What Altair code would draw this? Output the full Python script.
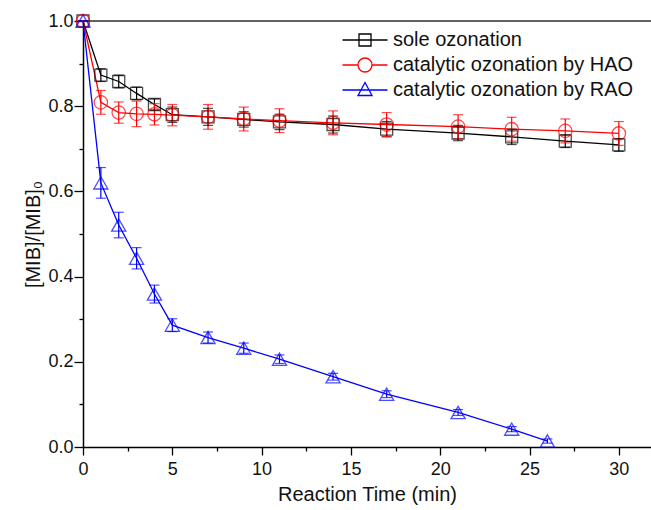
import altair as alt
import pandas as pd

series_names = ["sole ozonation", "catalytic ozonation by HAO", "catalytic ozonation by RAO"]
series_keys = ["S", "H", "R"]
series_colors = ["#000000", "#ff0000", "#0000ff"]

t_sole = [0, 1, 2, 3, 4, 5, 7, 9, 11, 14, 17, 21, 24, 27, 30]
v_sole = [1.0, 0.873, 0.858, 0.830, 0.804, 0.780, 0.775, 0.769, 0.763, 0.757, 0.746, 0.737, 0.728, 0.718, 0.709]
e_sole = [0.0, 0.015, 0.015, 0.015, 0.013, 0.018, 0.02, 0.018, 0.018, 0.02, 0.018, 0.018, 0.018, 0.015, 0.015]

t_hao = [0, 1, 2, 3, 4, 5, 7, 9, 11, 14, 17, 21, 24, 27, 30]
v_hao = [1.0, 0.809, 0.785, 0.782, 0.781, 0.779, 0.775, 0.770, 0.766, 0.761, 0.757, 0.752, 0.746, 0.742, 0.736]
e_hao = [0.0, 0.028, 0.025, 0.03, 0.025, 0.025, 0.029, 0.028, 0.028, 0.028, 0.028, 0.028, 0.028, 0.028, 0.028]

t_rao = [0, 1, 2, 3, 4, 5, 7, 9, 11, 14, 17, 21, 24, 26]
v_rao = [1.0, 0.620, 0.521, 0.443, 0.359, 0.286, 0.257, 0.232, 0.206, 0.165, 0.124, 0.081, 0.042, 0.014]
e_rao = [0.0, 0.036, 0.03, 0.025, 0.021, 0.015, 0.013, 0.012, 0.01, 0.008, 0.008, 0.007, 0.006, 0.005]

rows = []
for name, key, ts, vs, es in [(series_names[0], series_keys[0], t_sole, v_sole, e_sole),
                              (series_names[1], series_keys[1], t_hao, v_hao, e_hao),
                              (series_names[2], series_keys[2], t_rao, v_rao, e_rao)]:
    for t, v, e in zip(ts, vs, es):
        rows.append({"series": name, "sid": key, "t": t, "v": v, "lo": v - e, "hi": v + e})
df = pd.DataFrame(rows)

FONT = "Liberation Sans"

x_enc = alt.X("t:Q", scale=alt.Scale(domain=[0, 31.8], nice=False),
              title="Reaction Time (min)",
              axis=alt.Axis(values=[0, 2.5, 5, 7.5, 10, 12.5, 15, 17.5, 20, 22.5, 25, 27.5, 30],
                            labelExpr="datum.value % 5 == 0 ? format(datum.value, 'd') : ''",
                            tickSize={"condition": {"test": "datum.value % 5 == 0", "value": 8}, "value": 4},
                            grid=False, labelFontSize=18, titleFontSize=20, labelPadding=5,
                            titlePadding=6, labelFont=FONT, titleFont=FONT, titleFontWeight="normal",
                            domainColor="#000", domainWidth=1.5, tickColor="#000", tickWidth=1.3,
                            labelColor="#111", titleColor="#111", labelFlush=False))
y_enc = alt.Y("v:Q", scale=alt.Scale(domain=[0, 1.0], nice=False),
              title="[MIB]/[MIB]₀",
              axis=alt.Axis(values=[0, 0.1, 0.2, 0.3, 0.4, 0.5, 0.6, 0.7, 0.8, 0.9, 1.0],
                            labelExpr="round(datum.value * 10) % 2 == 0 ? format(datum.value, '.1f') : ''",
                            tickSize={"condition": {"test": "round(datum.value * 10) % 2 == 0", "value": 9}, "value": 4},
                            grid=False, labelFontSize=18, titleFontSize=20, labelPadding=1,
                            titlePadding=4, labelFont=FONT, titleFont=FONT, titleFontWeight="normal",
                            domainColor="#000", domainWidth=1.5, tickColor="#000", tickWidth=1.3,
                            labelColor="#111", titleColor="#111", labelFlush=False))

stroke_enc = alt.Stroke("sid:N", scale=alt.Scale(domain=series_keys, range=series_colors), legend=None)
fill_enc = alt.Fill("sid:N", scale=alt.Scale(domain=series_keys, range=series_colors), legend=None)

base = alt.Chart(df)

lines = base.mark_line(strokeWidth=1.3).encode(x=x_enc, y=y_enc, stroke=stroke_enc, detail="sid:N")

bars = base.mark_rule(strokeWidth=1.2).encode(x="t:Q", y="lo:Q", y2="hi:Q", stroke=stroke_enc)
caps_lo = base.mark_tick(orient="horizontal", size=10, thickness=1.2).encode(x="t:Q", y="lo:Q", fill=fill_enc)
caps_hi = base.mark_tick(orient="horizontal", size=10, thickness=1.2).encode(x="t:Q", y="hi:Q", fill=fill_enc)

pts_sole = base.transform_filter(alt.datum.sid == "S").mark_point(
    shape="square", size=144, filled=False, strokeWidth=1.3).encode(x="t:Q", y="v:Q", stroke=stroke_enc)
pts_hao = base.transform_filter(alt.datum.sid == "H").mark_point(
    shape="circle", size=180, filled=False, strokeWidth=1.3).encode(x="t:Q", y="v:Q", stroke=stroke_enc)
pts_rao = base.transform_filter(alt.datum.sid == "R").mark_point(
    shape="triangle-up", size=200, filled=False, strokeWidth=1.3).encode(x="t:Q", y="v:Q", stroke=stroke_enc)

legend_paths = [
    "M-2.25,0L2.25,0M-0.6,-0.6L0.6,-0.6L0.6,0.6L-0.6,0.6Z",
    "M-2.25,0L-0.7,0M0.7,0L2.25,0M0.7,0A0.7,0.7 0 1,1 -0.7,0A0.7,0.7 0 1,1 0.7,0Z",
    "M-2.25,0L2.25,0M0,-0.75L0.7,0.55L-0.7,0.55Z",
]

leg = alt.Legend(title=None, orient="none", legendX=271, legendY=8,
                 labelFontSize=20, labelFont=FONT, labelColor="#111", labelLimit=0,
                 labelOffset=17, rowPadding=4, padding=0,
                 symbolSize=400, symbolStrokeWidth=1.3, symbolOpacity=1,
                 symbolFillColor="transparent")

legend_layer = base.mark_point(filled=False, size=400, strokeWidth=1.3, opacity=0).encode(
    x="t:Q", y="v:Q",
    color=alt.Color("series:N", scale=alt.Scale(domain=series_names, range=series_colors), legend=leg),
    shape=alt.Shape("series:N", scale=alt.Scale(domain=series_names, range=legend_paths), legend=leg),
)

top_rule = alt.Chart(pd.DataFrame({"y": [1.0]})).mark_rule(color="#333", strokeWidth=1.5).encode(y=alt.Y("y:Q"))

chart = alt.layer(top_rule, lines, bars, caps_lo, caps_hi, pts_sole, pts_hao, pts_rao, legend_layer).properties(
    width=568, height=426,
    autosize=alt.AutoSizeParams(type="none"),
    padding={"left": 83, "top": 21, "right": 0, "bottom": 63},
).configure_view(stroke=None).configure(background="white")

chart.save("out.html", embed_options={"renderer": "svg", "actions": False})
